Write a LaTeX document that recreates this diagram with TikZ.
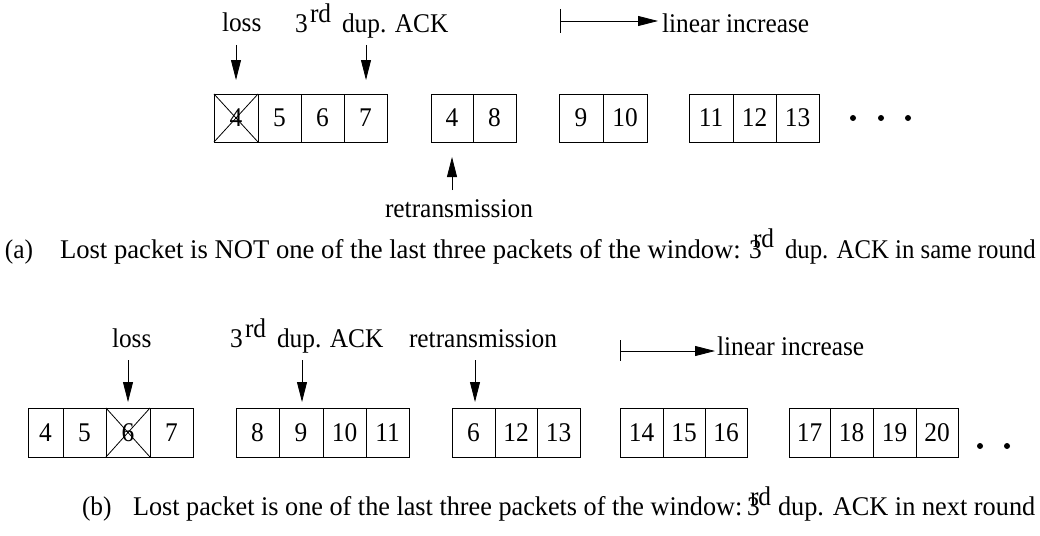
\documentclass[tikz,border=0pt]{standalone}
\usepackage{fontspec}
\setmainfont{Liberation Serif}[FakeStretch=0.94]
\usetikzlibrary{arrows.meta}
\begin{document}
\begin{tikzpicture}[x=1pt,y=-1pt,
  every node/.style={inner sep=0pt, outer sep=0pt, font=\fontsize{27}{32}\selectfont},
  lbl/.style={anchor=base west},
  cell/.style={draw, line width=0.8pt, minimum height=48pt, anchor=north west},
  arr/.style={line width=0.8pt, -{Triangle[length=20pt,width=10pt]}},
  bar/.style={line width=0.8pt},
  dot/.style={circle, fill, minimum size=6pt},
]
\useasboundingbox (0,0) rectangle (1040,535);

% ---------- (a) ----------
\node[cell, minimum width=44pt] (t4)  at (214,94) {4};
\node[cell, minimum width=43pt] (t5)  at (258,94) {5};
\node[cell, minimum width=43pt] (t6)  at (301,94) {6};
\node[cell, minimum width=43pt] (t7)  at (344,94) {7};
\draw[line width=0.8pt] (t4.north west) -- (t4.south east) (t4.south west) -- (t4.north east);
\node[cell, minimum width=42pt] (t4b) at (431,94) {4};
\node[cell, minimum width=43pt] (t8)  at (473,94) {8};
\node[cell, minimum width=44pt] (t9)  at (559,94) {9};
\node[cell, minimum width=44pt] (t10) at (603,94) {10};
\node[cell, minimum width=44pt] (t11) at (689,94) {11};
\node[cell, minimum width=43pt] (t12) at (733,94) {12};
\node[cell, minimum width=43pt] (t13) at (776,94) {13};
\node[dot] (td1) at (853,118) {};
\node[dot] (td2) at (881,118) {};
\node[dot] (td3) at (908,118) {};

\node[lbl] (lossA) at (222,32) {loss};
\node[lbl] (threeA) at (295,33) {3};
\node[lbl] (rdA) at (310,23) {rd};
\node[lbl] (ackA) at (342,33) {dup. ACK};
\coordinate (lossAs) at (236,45); \coordinate (lossAe) at (236,80);
\coordinate (ackAs) at (366,45);  \coordinate (ackAe) at (366,80);
\draw[arr] (lossAs) -- (lossAe);
\draw[arr] (ackAs) -- (ackAe);

\coordinate (linA0) at (560,21); \coordinate (linA1) at (658,21);
\coordinate (barAt) at (560,9); \coordinate (barAb) at (560,33);
\draw[bar] (barAt) -- (barAb);
\draw[arr] (linA0) -- (linA1);
\node[lbl] (linAt) at (662,33) {linear increase};

\coordinate (retAs) at (452,190); \coordinate (retAe) at (452,157);
\draw[arr] (retAs) -- (retAe);
\node[lbl] (retA) at (385,217) {retransmission};

\node[lbl] (capA1) at (5,258) {(a)};
\node[lbl] (capA2) at (60,258) {\scalebox{1.05}[1]{Lost packet is NOT one of the last three packets of the window:}};
\node[lbl] (capA3) at (749,258) {3};
\node[lbl] (capA4) at (753,247) {rd};
\node[lbl] (capA5) at (785,258) {\scalebox{0.977}[1]{dup. ACK in same round}};

% ---------- (b) ----------
\node[cell, minimum height=49pt, minimum width=35pt] (b4)  at (28,408) {4};
\node[cell, minimum height=49pt, minimum width=43pt] (b5)  at (63,408) {5};
\node[cell, minimum height=49pt, minimum width=44pt] (b6)  at (106,408) {6};
\node[cell, minimum height=49pt, minimum width=43pt] (b7)  at (150,408) {7};
\draw[line width=0.8pt] (b6.north west) -- (b6.south east) (b6.south west) -- (b6.north east);
\node[cell, minimum height=49pt, minimum width=43pt] (b8)  at (236,408) {8};
\node[cell, minimum height=49pt, minimum width=44pt] (b9)  at (279,408) {9};
\node[cell, minimum height=49pt, minimum width=43pt] (b10) at (323,408) {10};
\node[cell, minimum height=49pt, minimum width=43pt] (b11) at (366,408) {11};
\node[cell, minimum height=49pt, minimum width=43pt] (b6b) at (452,408) {6};
\node[cell, minimum height=49pt, minimum width=42pt] (b12) at (495,408) {12};
\node[cell, minimum height=49pt, minimum width=43pt] (b13) at (537,408) {13};
\node[cell, minimum height=49pt, minimum width=43pt] (b14) at (620,408) {14};
\node[cell, minimum height=49pt, minimum width=42pt] (b15) at (663,408) {15};
\node[cell, minimum height=49pt, minimum width=42pt] (b16) at (705,408) {16};
\node[cell, minimum height=49pt, minimum width=41pt] (b17) at (789,408) {17};
\node[cell, minimum height=49pt, minimum width=43pt] (b18) at (830,408) {18};
\node[cell, minimum height=49pt, minimum width=43pt] (b19) at (873,408) {19};
\node[cell, minimum height=49pt, minimum width=42pt] (b20) at (916,408) {20};
\node[dot] (bd1) at (980,446) {};
\node[dot] (bd2) at (1007,446) {};

\node[lbl] (lossB) at (112,347) {loss};
\node[lbl] (threeB) at (230,347) {3};
\node[lbl] (rdB) at (245,337) {rd};
\node[lbl] (ackB) at (277,347) {dup. ACK};
\node[lbl] (retB) at (409,347) {retransmission};
\coordinate (lossBs) at (128,360); \coordinate (lossBe) at (128,402);
\coordinate (ackBs) at (302,360);  \coordinate (ackBe) at (302,402);
\coordinate (retBs) at (475,360);  \coordinate (retBe) at (475,402);
\draw[arr] (lossBs) -- (lossBe);
\draw[arr] (ackBs) -- (ackBe);
\draw[arr] (retBs) -- (retBe);

\coordinate (linB0) at (620,351); \coordinate (linB1) at (715,351);
\coordinate (barBt) at (620,340); \coordinate (barBb) at (620,361);
\draw[bar] (barBt) -- (barBb);
\draw[arr] (linB0) -- (linB1);
\node[lbl] (linBt) at (717,355) {linear increase};

\node[lbl] (capB1) at (82,515) {(b)};
\node[lbl] (capB2) at (133,515) {\scalebox{1.033}[1]{Lost packet is one of the last three packets of the window:}};
\node[lbl] (capB3) at (747,515) {3};
\node[lbl] (capB4) at (750,505) {rd};
\node[lbl] (capB5) at (778,515) {\scalebox{1.037}[1]{dup. ACK in next round}};
\end{tikzpicture}
\end{document}
